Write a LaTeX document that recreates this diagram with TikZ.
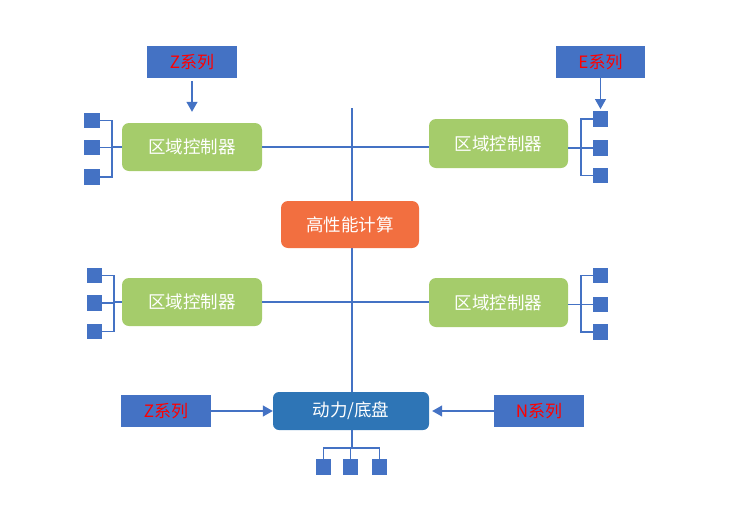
\documentclass[tikz,border=0pt]{standalone}
\usepackage{fontspec}
\newfontfamily\cjk{Noto Sans CJK SC}
\usetikzlibrary{arrows.meta,calc}
\definecolor{lineblue}{HTML}{4472C4}
\definecolor{boxblue}{HTML}{4472C4}
\definecolor{ctlgreen}{HTML}{A5CC6B}
\definecolor{hpcorange}{HTML}{F26F40}
\definecolor{pwblue}{HTML}{2E75B6}
\definecolor{txtred}{HTML}{FF0000}
\tikzset{
  conn/.style={draw=lineblue, line width=1.2pt},
  arr/.style={conn, -{Triangle[width=11pt,length=10pt]}},
  serbox/.style={fill=boxblue, draw=none, minimum width=90pt, minimum height=32pt, inner sep=0pt,
    font=\cjk\fontsize{17}{20}\selectfont, text=txtred},
  ctlbox/.style={fill=ctlgreen, draw=none, rounded corners=7pt, minimum width=140pt, minimum height=48pt,
    inner sep=0pt, font=\cjk\fontsize{17.5}{20}\selectfont, text=white},
  hpcbox/.style={ctlbox, fill=hpcorange, minimum width=138pt, minimum height=47pt},
  pwbox/.style={ctlbox, fill=pwblue, minimum width=156pt, minimum height=38pt, rounded corners=6pt},
  sq/.style={fill=lineblue, draw=none, minimum width=15.5pt, minimum height=15.5pt, inner sep=0pt}
}
\begin{document}
\begin{tikzpicture}[x=1pt,y=-1pt]
\useasboundingbox (0,0) rectangle (734,517);
% central vertical line
\coordinate (vtop) at (352,108);
\node[pwbox] (pw) at (351,411) {动力/底盘};
\draw[conn] (vtop) -- (vtop |- pw.north);
% controllers
\node[ctlbox] (c1) at (192,147) {区域控制器};
\node[ctlbox, minimum width=139pt, minimum height=49pt] (c2) at (498.5,143.5) {区域控制器};
\node[ctlbox] (c3) at (192,302) {区域控制器};
\node[ctlbox, minimum width=139pt, minimum height=49pt] (c4) at (498.5,302.5) {区域控制器};
\draw[conn] (c1.east) -- (c1.east -| c2.west);
\draw[conn] (c3.east) -- (c3.east -| c4.west);
\node[hpcbox] (hpc) at (350,224.5) {高性能计算};
% series boxes
\node[serbox] (zt) at (192,62) {Z系列};
\node[serbox, minimum width=89pt] (et) at (600.5,62) {E系列};
\node[serbox] (zb) at (166,411) {Z系列};
\node[serbox] (nb) at (539,411) {N系列};
% squares top-left
\node[sq] (tl1) at (92,120.5) {};
\node[sq] (tl2) at (92,147.5) {};
\node[sq] (tl3) at (92,177) {};
% top-right
\node[sq] (tr1) at (600.5,119) {};
\node[sq] (tr2) at (600.5,148) {};
\node[sq] (tr3) at (600.5,175.5) {};
% mid-left
\node[sq] (ml1) at (94.5,275.5) {};
\node[sq] (ml2) at (94.5,303) {};
\node[sq] (ml3) at (94.5,331.5) {};
% mid-right
\node[sq] (mr1) at (600.5,275.5) {};
\node[sq] (mr2) at (600.5,304.5) {};
\node[sq] (mr3) at (600.5,332) {};
% bottom
\node[sq] (bs1) at (323.5,467) {};
\node[sq] (bs2) at (350.5,467) {};
\node[sq] (bs3) at (379.5,467) {};
% brackets
\coordinate (bxa) at (112,0);
\coordinate (bxb) at (581,0);
\coordinate (bxc) at (114,0);
\draw[conn] (tl1.east) -- (tl1.east -| bxa) -- (tl3.east -| bxa) -- (tl3.east);
\draw[conn] (tl2.east) -- (tl2.east -| bxa);
\draw[conn] (c1.west) -- (c1.west -| bxa);
\draw[conn] (tr1.west) -- (tr1.west -| bxb) -- (tr3.west -| bxb) -- (tr3.west);
\draw[conn] (tr2.west) -- (tr2.west -| bxb);
\draw[conn] (c2.east |- tr2) -- (tr2.west);
\draw[conn] (ml1.east) -- (ml1.east -| bxc) -- (ml3.east -| bxc) -- (ml3.east);
\draw[conn] (ml2.east) -- (ml2.east -| bxc);
\draw[conn] (c3.west) -- (c3.west -| bxc);
\draw[conn] (mr1.west) -- (mr1.west -| bxb) -- (mr3.west -| bxb) -- (mr3.west);
\draw[conn] (mr2.west) -- (mr2.west -| bxb);
\draw[conn] (c4.east |- mr2) -- (mr2.west);
\coordinate (bh) at (0,448);
\draw[conn] (pw.south -| vtop) -- (bh -| vtop);
\draw[conn] (bs1.north) -- (bs1.north |- bh) -- (bs3.north |- bh) -- (bs3.north);
\draw[conn] (bs2.north) -- (bs2.north |- bh);
% arrows
\draw[arr, shorten <=3pt, shorten >=11pt] (zt.south) -- (c1.north -| zt.south);
\draw[arr, shorten >=2pt] (et.south) -- (tr1.north);
\draw[arr] (zb.east) -- (pw.west);
\draw[arr, shorten >=3pt] (nb.west) -- (pw.east);
\end{tikzpicture}
\end{document}
